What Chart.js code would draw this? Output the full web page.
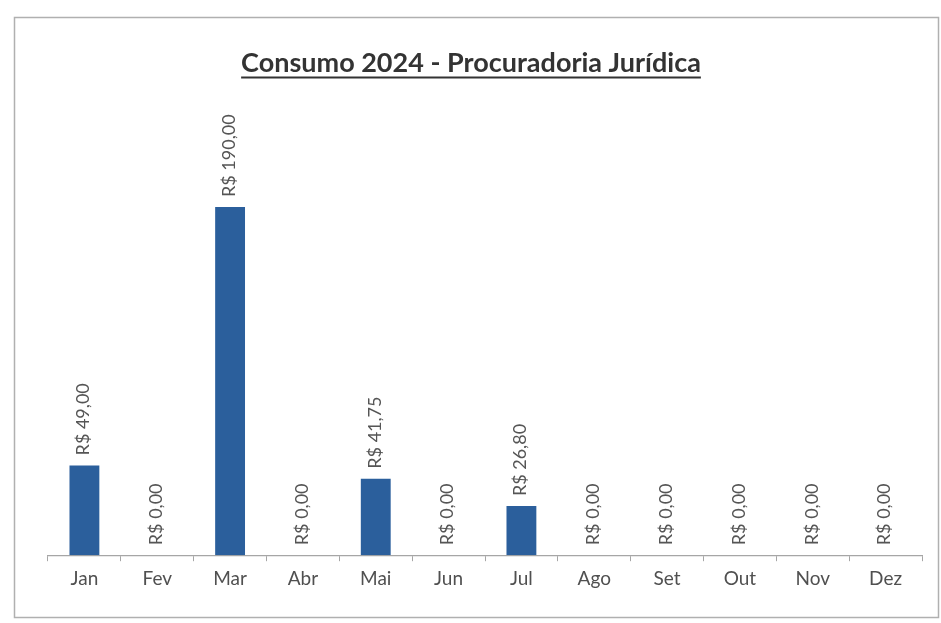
<!DOCTYPE html>
<html>
<head>
<meta charset="utf-8">
<script src="https://cdn.jsdelivr.net/npm/chart.js@4"></script>
<style>
    html, body { margin: 0; padding: 0; background: #fff; }
    #wrap { width: 941px; height: 623px; position: relative; }
</style>
</head>
<body>
<div id="wrap"><canvas id="chart"></canvas></div>
<script>
const meses = ['Jan', 'Fev', 'Mar', 'Abr', 'Mai', 'Jun', 'Jul', 'Ago', 'Set', 'Out', 'Nov', 'Dez'];
const consumo = [49.00, 0, 190.00, 0, 41.75, 0, 26.80, 0, 0, 0, 0, 0];
const titulo = 'Consumo 2024 - Procuradoria Jurídica';

const fmtReal = v => 'R$ ' + v.toFixed(2).replace('.', ',');

// moldura da imagem, título centralizado na moldura e sublinhado
const moldura = {
    id: 'moldura',
    beforeDraw(chart) {
        const ctx = chart.ctx;
        ctx.save();
        ctx.fillStyle = '#fff';
        ctx.fillRect(0, 0, chart.width, chart.height);
        ctx.strokeStyle = '#b0b0b0';
        ctx.lineWidth = 1.5;
        ctx.strokeRect(14.5, 17.5, 924, 600);
        ctx.restore();
    },
    afterDraw(chart) {
        const ctx = chart.ctx,
            cx = 471;
        ctx.save();
        ctx.font = 'bold 27px Lato';
        ctx.fillStyle = '#333';
        ctx.textAlign = 'center';
        ctx.textBaseline = 'alphabetic';
        ctx.fillText(titulo, cx, 72);
        const w = ctx.measureText(titulo).width;
        ctx.strokeStyle = '#333';
        ctx.lineWidth = 1.8;
        ctx.beginPath();
        ctx.moveTo(cx - w / 2, 77.5);
        ctx.lineTo(cx + w / 2, 77.5);
        ctx.stroke();
        ctx.restore();
    }
};

// rótulos de valor verticais acima das barras
const rotulos = {
    id: 'rotulos',
    afterDatasetsDraw(chart) {
        const ctx = chart.ctx,
            meta = chart.getDatasetMeta(0);
        ctx.save();
        ctx.font = '18px Lato';
        ctx.fillStyle = '#555';
        ctx.textAlign = 'left';
        ctx.textBaseline = 'middle';
        meta.data.forEach((bar, i) => {
            ctx.save();
            ctx.translate(bar.x - 1, bar.y - 10);
            ctx.rotate(-Math.PI / 2);
            ctx.fillText(fmtReal(consumo[i]), 0, 0);
            ctx.restore();
        });
        ctx.restore();
    }
};

new Chart(document.getElementById('chart'), {
    type: 'bar',
    data: {
        labels: meses,
        datasets: [{
            data: consumo,
            backgroundColor: '#2b5f9c',
            barPercentage: 1,
            categoryPercentage: 0.41
        }]
    },
    options: {
        responsive: true,
        maintainAspectRatio: false,
        animation: false,
        layout: {
            padding: { top: 97, left: 48, right: 19, bottom: 27 }
        },
        scales: {
            x: {
                border: { display: true, color: '#a6a6a6', width: 1.2 },
                grid: {
                    display: true,
                    drawOnChartArea: false,
                    drawTicks: true,
                    tickLength: 6,
                    color: '#a6a6a6',
                    offset: true
                },
                ticks: {
                    color: '#505050',
                    font: { family: 'Lato', size: 19 },
                    padding: 6
                }
            },
            y: {
                display: false,
                min: 0,
                max: 250
            }
        },
        plugins: {
            legend: { display: false },
            tooltip: { enabled: false },
            title: { display: false }
        }
    },
    plugins: [moldura, rotulos]
});
</script>
</body>
</html>
